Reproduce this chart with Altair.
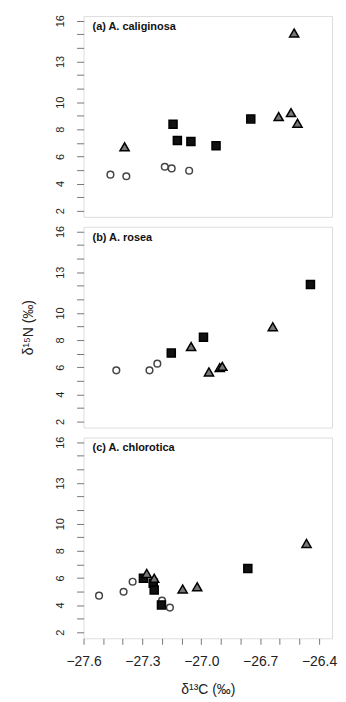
import altair as alt
import pandas as pd

# ---- data ----
panel_labels = ["(a) A. caliginosa", "(b) A. rosea", "(c) A. chlorotica"]
groups = ["circle", "square", "triangle"]

a_circle_x = [-27.463, -27.382, -27.186, -27.151, -27.062]
a_circle_y = [4.66, 4.54, 5.24, 5.12, 4.95]
a_square_x = [-27.144, -27.122, -27.053, -26.925, -26.748]
a_square_y = [8.38, 7.17, 7.10, 6.79, 8.77]
a_tri_x = [-27.391, -26.606, -26.543, -26.510, -26.527]
a_tri_y = [6.71, 8.94, 9.23, 8.45, 15.10]

b_circle_x = [-27.433, -27.264, -27.224]
b_circle_y = [5.77, 5.77, 6.26]
b_square_x = [-27.153, -26.989, -26.444]
b_square_y = [7.04, 8.21, 12.10]
b_tri_x = [-27.052, -26.961, -26.906, -26.893, -26.636]
b_tri_y = [7.52, 5.65, 5.97, 6.06, 8.98]

c_circle_x = [-27.521, -27.396, -27.350, -27.200, -27.160]
c_circle_y = [4.69, 4.98, 5.72, 4.32, 3.81]
c_square_x = [-27.295, -27.245, -27.240, -27.203, -26.763]
c_square_y = [5.97, 5.60, 5.11, 4.01, 6.70]
c_tri_x = [-27.278, -27.240, -27.095, -27.021, -26.464]
c_tri_y = [6.33, 5.97, 5.18, 5.35, 8.54]

x_ticks = [round(-27.6 + 0.1 * i, 1) for i in range(13)]
y_ticks = list(range(2, 17))
y_labeled = [2, 4, 6, 8, 10, 13, 16]


def frame(cx, cy, sx, sy, tx, ty):
    rows = []
    for g, xs, ys in [("circle", cx, cy), ("square", sx, sy), ("triangle", tx, ty)]:
        for x, y in zip(xs, ys):
            rows.append({"x": x, "y": y, "g": g})
    return pd.DataFrame(rows)


panels = [
    frame(a_circle_x, a_circle_y, a_square_x, a_square_y, a_tri_x, a_tri_y),
    frame(b_circle_x, b_circle_y, b_square_x, b_square_y, b_tri_x, b_tri_y),
    frame(c_circle_x, c_circle_y, c_square_x, c_square_y, c_tri_x, c_tri_y),
]

W, H = 250, 202
FONT = "Liberation Sans"

ylab_expr = "indexof(%s, datum.value) >= 0 ? datum.label : ''" % str(y_labeled)
xlab_expr = "round(datum.value*10) % 3 == 0 ? format(datum.value, '.1f') : ''"


def make_panel(i, df):
    show_x = i == 2
    y_axis = alt.Axis(
        values=y_ticks, labelExpr=ylab_expr, labelAngle=270, labelAlign="center",
        labelBaseline="bottom", labelPadding=11, labelFontSize=11, labelColor="#222",
        tickSize=7, tickColor="#777", domain=False, grid=False,
        title="δ¹⁵N (‰)", titleFontSize=14, titleFontWeight="normal",
        titleColor="#222" if i == 1 else "transparent",
        titlePadding=19,
    )
    if show_x:
        x_axis = alt.Axis(
            values=x_ticks, labelExpr=xlab_expr, labelFontSize=14, labelColor="#222",
            labelPadding=10, tickSize=6, tickColor="#777", domain=False, grid=False,
            title="δ¹³C (‰)", titleFontSize=14, titleFontWeight="normal", titleColor="#222",
            titlePadding=15, labelFlush=False,
        )
    else:
        x_axis = None
    pts = alt.Chart(df).mark_point(filled=False, opacity=1, strokeWidth=1.5).encode(
        x=alt.X("x:Q", scale=alt.Scale(domain=[-27.6, -26.334], nice=False, zero=False), axis=x_axis),
        y=alt.Y("y:Q", scale=alt.Scale(domain=[1.55, 16.35], nice=False, zero=False), axis=y_axis),
        shape=alt.Shape("g:N", scale=alt.Scale(domain=groups, range=["circle", "square", "triangle-up"]), legend=None),
        fill=alt.Fill("g:N", scale=alt.Scale(domain=groups, range=["#ffffff", "#111111", "#777777"]), legend=None),
        stroke=alt.Stroke("g:N", scale=alt.Scale(domain=groups, range=["#444444", "#000000", "#000000"]), legend=None),
        size=alt.Size("g:N", scale=alt.Scale(domain=groups, range=[45, 85, 140]), legend=None),
    )
    lbl = alt.Chart(pd.DataFrame({"t": [panel_labels[i]]})).mark_text(
        align="left", baseline="middle", fontSize=11, fontWeight="bold", font=FONT, color="#111"
    ).encode(text="t:N", x=alt.value(9), y=alt.value(11))
    return alt.layer(pts, lbl).properties(width=W, height=H)


chart = alt.vconcat(*[make_panel(i, df) for i, df in enumerate(panels)], spacing=7).properties(
    padding={"top": 4, "left": 13, "right": 0, "bottom": 0}
).configure_view(stroke="#999999", strokeWidth=1.3).configure(font=FONT).configure_axis(labelFont=FONT, titleFont=FONT)

chart.save("out.html", embed_options={"renderer": "svg", "actions": False})
